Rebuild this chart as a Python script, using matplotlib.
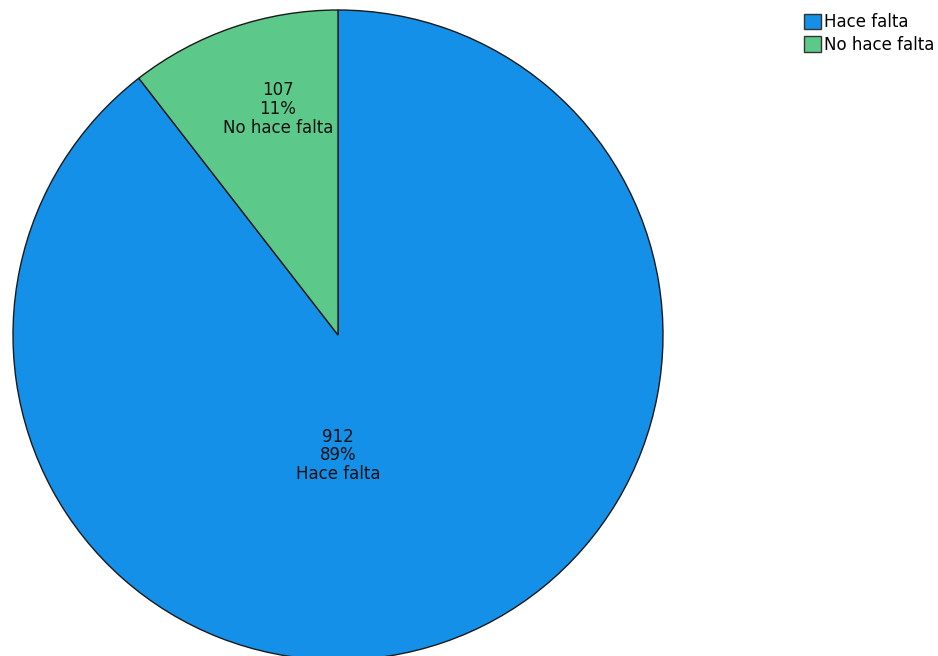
import matplotlib
matplotlib.use('Agg')
from matplotlib import pyplot as plt
from matplotlib.patches import Patch

# data
labels = ['Hace falta', 'No hace falta']
counts = [912, 107]
percents = ['89%', '11%']
colors = ['#1590e8', '#5cc98a']

plt.rcParams['font.family'] = ['DejaVu Sans']

fig = plt.figure(figsize=(9.38, 6.56), dpi=100)
ax = fig.add_axes([13 / 938, -4 / 656, 650 / 938, 650 / 656])

wedges, _ = ax.pie(counts, colors=colors, startangle=90, counterclock=False,
                   wedgeprops={'edgecolor': '#1a1a1a', 'linewidth': 1.0})
ax.set_xlim(-1, 1)
ax.set_ylim(-1, 1)
ax.set_aspect('equal')
ax.axis('off')

# label positions (fraction of radius)
label_pos = [(0.0, -0.37), (-0.185, 0.695)]
for lab, n, p, (x, y) in zip(labels, counts, percents, label_pos):
    ax.text(x, y, f'{n}\n{p}\n{lab}', ha='center', va='center',
            fontsize=12, linespacing=1.05, color='#111111')

handles = [Patch(facecolor=c, edgecolor='#333333', linewidth=1.0) for c in colors]
fig.legend(handles, labels, loc='upper left', bbox_to_anchor=(801 / 938, 1 - 10 / 656),
           frameon=False, fontsize=12, handlelength=1.0, handleheight=1.05,
           handletextpad=0.2, labelspacing=0.25, borderaxespad=0, borderpad=0.2)

fig.savefig('out.png', dpi=100)
